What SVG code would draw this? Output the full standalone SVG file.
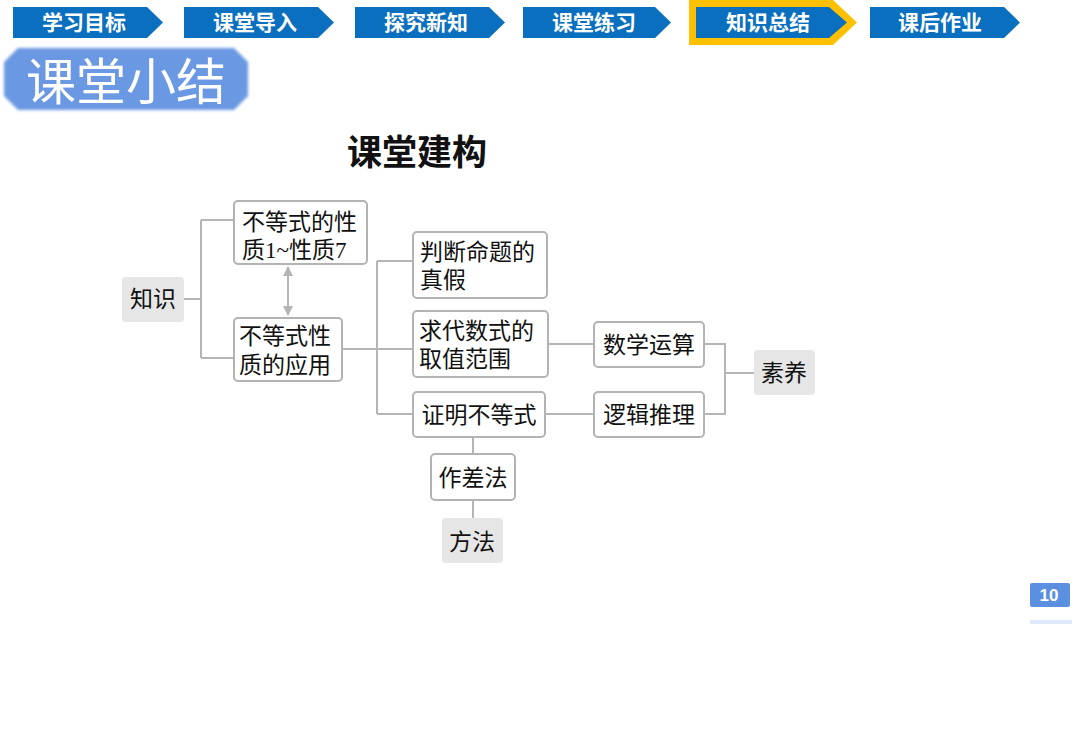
<svg xmlns="http://www.w3.org/2000/svg" width="1080" height="745" viewBox="0 0 1080 745">
<style>
.tab{fill:#0a6fbf}
.tabt{font-family:"Noto Sans CJK SC",sans-serif;font-weight:700;font-size:21px;fill:#fff;text-anchor:middle}
.box{fill:#fff;stroke:#b3b3b3;stroke-width:2}
.gbox{fill:#e6e6e6;stroke:none}
.t{font-family:"Liberation Serif","Noto Sans CJK SC",serif;font-size:23px;fill:#111}
.tc{text-anchor:middle}
.ln{fill:none;stroke:#b5b5b5;stroke-width:2}
</style>
<defs>
<marker id="ah" viewBox="0 0 10 10" refX="9" refY="5" markerWidth="5" markerHeight="5" orient="auto-start-reverse">
<path d="M0,0 L10,5 L0,10 z" fill="#b5b5b5"/>
</marker>
<filter id="blur" x="-5%" y="-10%" width="110%" height="120%"><feGaussianBlur stdDeviation="1.5"/></filter>
</defs>
<rect width="1080" height="745" fill="#fff"/>

<g id="nav">
<polygon class="tab" points="13,7 147,7 163,22.5 147,38 13,38"/>
<text class="tabt" x="84" y="30">学习目标</text>
<polygon class="tab" points="184,7 318,7 334,22.5 318,38 184,38"/>
<text class="tabt" x="255" y="30">课堂导入</text>
<polygon class="tab" points="355,7 489,7 505,22.5 489,38 355,38"/>
<text class="tabt" x="426" y="30">探究新知</text>
<polygon class="tab" points="523,7 655,7 671,22.5 655,38 523,38"/>
<text class="tabt" x="594" y="30">课堂练习</text>
<polygon fill="#ffc000" points="689,0 833,0 857,22.5 833,45 689,45"/>
<polygon class="tab" points="696,7 829,7 847,22.5 829,38 696,38"/>
<text class="tabt" x="768" y="30">知识总结</text>
<polygon class="tab" points="870,7 1004,7 1020,22.5 1004,38 870,38"/>
<text class="tabt" x="940" y="30">课后作业</text>
</g>

<g id="badge">
<polygon fill="#6b98e2" filter="url(#blur)" points="18,48 234,48 248,62 248,96 234,110 18,110 4,96 4,62"/>
<text x="126" y="100" font-family="Liberation Serif,'Noto Sans CJK SC',serif" font-size="50" fill="#fff" text-anchor="middle">课堂小结</text>
</g>

<text x="417" y="165" font-family="'Noto Sans CJK SC',sans-serif" font-weight="700" font-size="35" fill="#111" text-anchor="middle">课堂建构</text>

<g id="connectors">
<path class="ln" d="M184,299 H201 M201,220 V358 M201,220 H234 M201,358 H234"/>
<path class="ln" d="M288,267 V315" marker-start="url(#ah)" marker-end="url(#ah)"/>
<path class="ln" d="M342,349 H413 M377,261 V414 M377,261 H413 M377,414 H413"/>
<path class="ln" d="M548,344 H594 M545,414 H594"/>
<path class="ln" d="M704,344 H725 V414 H704 M725,373 H754"/>
<path class="ln" d="M473,437 V453 M473,500 V518"/>
</g>

<g id="n-zhishi"><rect class="gbox" x="122" y="277" width="62" height="45" rx="4"/><text class="t tc" x="153" y="307">知识</text></g>
<g id="n-xingzhi"><rect class="box" x="234" y="201" width="133" height="63" rx="4"/><text class="t" x="242" y="230">不等式的性</text><text class="t" x="242" y="258">质1~性质7</text></g>
<g id="n-yingyong"><rect class="box" x="234" y="318" width="108" height="63" rx="4"/><text class="t" x="239" y="344">不等式性</text><text class="t" x="239" y="373">质的应用</text></g>
<g id="n-panduan"><rect class="box" x="413" y="232" width="134" height="66" rx="4"/><text class="t" x="420" y="260">判断命题的</text><text class="t" x="420" y="288">真假</text></g>
<g id="n-qiu"><rect class="box" x="413" y="311" width="135" height="66" rx="4"/><text class="t" x="419" y="339">求代数式的</text><text class="t" x="419" y="367">取值范围</text></g>
<g id="n-zhengming"><rect class="box" x="413" y="392" width="132" height="45" rx="4"/><text class="t tc" x="479" y="423">证明不等式</text></g>
<g id="n-shuxue"><rect class="box" x="594" y="322" width="110" height="45" rx="4"/><text class="t tc" x="649" y="353">数学运算</text></g>
<g id="n-luoji"><rect class="box" x="594" y="392" width="110" height="45" rx="4"/><text class="t tc" x="649" y="423">逻辑推理</text></g>
<g id="n-suyang"><rect class="gbox" x="754" y="350" width="61" height="45" rx="4"/><text class="t tc" x="784" y="381">素养</text></g>
<g id="n-zuocha"><rect class="box" x="431" y="454" width="84" height="46" rx="4"/><text class="t tc" x="473" y="486">作差法</text></g>
<g id="n-fangfa"><rect class="gbox" x="442" y="518" width="61" height="45" rx="4"/><text class="t tc" x="472" y="550">方法</text></g>

<g id="page">
<rect x="1030" y="583" width="40" height="24" rx="2" fill="#5b8fe0"/>
<text x="1049" y="601" font-family="'Liberation Sans',sans-serif" font-weight="700" font-size="17" fill="#fff" text-anchor="middle">10</text>
<rect x="1030" y="620" width="42" height="4" fill="#dde8f8"/>
</g>
</svg>
